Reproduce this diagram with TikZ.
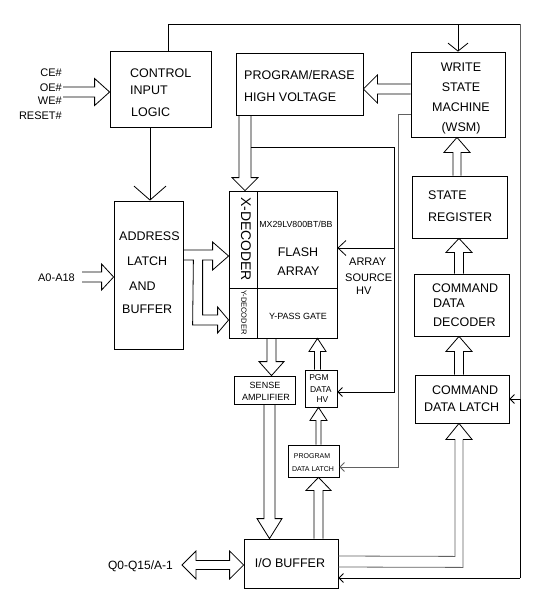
\documentclass[tikz,border=0pt]{standalone}
\usepackage{fontspec}
\setmainfont{Liberation Sans}
\usetikzlibrary{calc,arrows.meta}
\newcommand\blkarrow[6][]{%
  \draw[ln,#1] let \p1=#2, \p2=#3, \n1={atan2(\y2-\y1,\x2-\x1)} in
    ($(\p1)+(\n1+90:#4)$) -- ($(\p2)+(\n1+180:#6)+(\n1+90:#4)$) --
    ($(\p2)+(\n1+180:#6)+(\n1+90:#5)$) -- (\p2) --
    ($(\p2)+(\n1+180:#6)+(\n1-90:#5)$) -- ($(\p2)+(\n1+180:#6)+(\n1-90:#4)$) --
    ($(\p1)+(\n1-90:#4)$);}
\newcommand\dblarrow[6][]{%
  \draw[ln,#1] let \p1=#2, \p2=#3, \n1={atan2(\y2-\y1,\x2-\x1)} in
    (\p1) -- ($(\p1)+(\n1:#6)+(\n1+90:#5)$) -- ($(\p1)+(\n1:#6)+(\n1+90:#4)$) --
    ($(\p2)+(\n1+180:#6)+(\n1+90:#4)$) -- ($(\p2)+(\n1+180:#6)+(\n1+90:#5)$) --
    (\p2) -- ($(\p2)+(\n1+180:#6)+(\n1-90:#5)$) -- ($(\p2)+(\n1+180:#6)+(\n1-90:#4)$) --
    ($(\p1)+(\n1:#6)+(\n1-90:#4)$) -- ($(\p1)+(\n1:#6)+(\n1-90:#5)$) -- cycle;}
\begin{document}
\begin{tikzpicture}[x=1pt,y=-1pt,
  ln/.style={line width=0.8pt, line join=miter},
  gr/.style={draw=black!62},
  box/.style={draw, line width=0.8pt, inner sep=0pt},
  T/.style={inner sep=0pt, text depth=0pt, font=\fontsize{12.5}{14}\selectfont, text height=9pt},
  S14/.style={font=\fontsize{14}{16}\selectfont, text height=10pt},
  S12/.style={font=\fontsize{12}{14}\selectfont, text height=8.6pt},
  S11/.style={font=\fontsize{11}{13}\selectfont, text height=7.9pt},
  S9/.style={font=\fontsize{9}{11}\selectfont, text height=6.4pt},
  S88/.style={font=\fontsize{8.8}{10}\selectfont, text height=6.3pt},
  S85/.style={font=\fontsize{8.5}{10}\selectfont, text height=6.1pt},
  S75/.style={font=\fontsize{7.5}{9}\selectfont, text height=5.4pt},
  S7/.style={font=\fontsize{7}{8}\selectfont, text height=5pt},
  vbig/.style={-{Straight Barb[length=14pt,width=32pt]}},
  vmed/.style={-{Straight Barb[length=8pt,width=20pt]}},
  vsm/.style={-{Straight Barb[length=8pt,width=15pt]}},
  vtiny/.style={-{Straight Barb[length=4.5pt,width=9pt]}}]
\useasboundingbox (0,0) rectangle (547,595);

% boxes
\node[box, minimum width=101pt, minimum height=76pt] (ctrl) at (160.5,89) {};
\node[box, minimum width=127pt, minimum height=62pt] (pe) at (299.5,84) {};
\node[box, minimum width=94pt, minimum height=85pt] (wsm) at (458,94.5) {};
\node[box, minimum width=95pt, minimum height=62pt] (sreg) at (459.5,207) {};
\node[box, minimum width=95pt, minimum height=62pt] (cdd) at (461.5,305) {};
\node[box, minimum width=94pt, minimum height=48pt] (cdl) at (462,399) {};
\node[box, minimum width=69pt, minimum height=148pt] (addr) at (148.5,275) {};
\node[box, minimum width=28pt, minimum height=97pt] (xdec) at (243,239.5) {};
\node[box, minimum width=28pt, minimum height=50pt] (ydec) at (243,313) {};
\node[box, minimum width=80pt, minimum height=97pt] (farr) at (297,239.5) {};
\node[box, minimum width=80pt, minimum height=50pt] (ypass) at (297,313) {};
\node[box, minimum width=61pt, minimum height=28pt] (sense) at (264.5,390) {};
\node[box, minimum width=32pt, minimum height=37pt] (pgm) at (321,388.5) {};
\node[box, minimum width=51pt, minimum height=32pt] (pdl) at (313.5,461) {};
\node[box, minimum width=94pt, minimum height=49pt] (io) at (291,563.5) {};

% texts
\node[T, anchor=west] (t1) at (130,73) {CONTROL};
\node[T, anchor=west] (t2) at (130,90) {INPUT};
\node[T, anchor=west] (t3) at (131,112) {LOGIC};
\node[T, anchor=west] (t4) at (244,75) {PROGRAM/ERASE};
\node[T, anchor=west] (t5) at (244,96.5) {HIGH VOLTAGE};
\node[T] (t6) at (461,67) {WRITE};
\node[T] (t7) at (461,87) {STATE};
\node[T] (t8) at (461,107) {MACHINE};
\node[T] (t9) at (461,127) {(WSM)};
\node[T, anchor=west] (t10) at (428,194.5) {STATE};
\node[T, anchor=west] (t11) at (428,217) {REGISTER};
\node[T, anchor=west] (t12) at (432,288) {COMMAND};
\node[T, anchor=west] (t13) at (433,303) {DATA};
\node[T, anchor=west] (t14) at (433,322) {DECODER};
\node[T, anchor=west] (t15) at (432,390) {COMMAND};
\node[T, anchor=west] (t16) at (424,407) {DATA LATCH};
\node[T, anchor=west] (t17) at (119,235.5) {ADDRESS};
\node[T, anchor=west] (t18) at (127,260.5) {LATCH};
\node[T, anchor=west] (t19) at (129,285.5) {AND};
\node[T, anchor=west] (t20) at (122,308.5) {BUFFER};
\node[T, S14, rotate=-90] (t21) at (246,239) {X-DECODER};
\node[T, S75, rotate=-90] (t22) at (244,312.5) {Y-DECODER};
\node[T, S88] (t23) at (296,224.7) {MX29LV800BT/BB};
\node[T] (t24) at (298,252) {FLASH};
\node[T] (t25) at (298.5,270.5) {ARRAY};
\node[T, S9] (t26) at (298,316.7) {Y-PASS GATE};
\node[T, S11, anchor=west] (t27) at (349,262) {ARRAY};
\node[T, S11, anchor=west] (t28) at (345,278) {SOURCE};
\node[T, S11, anchor=west] (t29) at (356,291) {HV};
\node[T, S9] (t30) at (265,385.5) {SENSE};
\node[T, S9] (t31) at (266,397.5) {AMPLIFIER};
\node[T, S85] (t32) at (319,377.5) {PGM};
\node[T, S85] (t33) at (320.8,389) {DATA};
\node[T, S85] (t34) at (322.5,399) {HV};
\node[T, S7] (t35) at (312,456) {PROGRAM};
\node[T, S7] (t36) at (313,469) {DATA LATCH};
\node[T] (t37) at (290,562.5) {I/O BUFFER};
\node[T, S12] (q0) at (140.5,565.5) {Q0-Q15/A-1};
\node[T, S11] (a018) at (56.5,277.5) {A0-A18};
\node[T, S11, anchor=east] (ce) at (62,73) {CE\#};
\node[T, S11, anchor=east] (oe) at (62,87.5) {OE\#};
\node[T, S11, anchor=east] (we) at (62,101) {WE\#};
\node[T, S11, anchor=east] (rs) at (62,116) {RESET\#};

% coordinates
\coordinate (tl) at (168,24);
\coordinate (tr) at (520,24);
\coordinate (rb) at (520,578);
\coordinate (asL) at (251,147);
\coordinate (asR) at (394,147);
\coordinate (cin) at (63,92);
\coordinate (ain) at (82,277);
\coordinate (qin) at (182,565);
\coordinate (pgmin) at ($(pgm.east)+(0,3.5)$);
\coordinate (farin) at ($(farr.east)+(0,8.5)$);
\coordinate (wout) at ($(wsm.west)+(0,19.5)$);
\coordinate (wl) at ($(wout)+(-12,0)$);
\coordinate (pdlin) at ($(pdl.east)+(0,6)$);

% thin connectors
\draw[ln] (tl |- ctrl.north) -- (tl) -- (tr);
\draw[ln, gr] (tr) -- (tr |- cdl.east);
\draw[ln, vtiny] (tr |- cdl.east) -- (cdl.east);
\draw[ln] (tr |- cdl.east) -- (rb);
\draw[ln, vtiny] (rb) -- (rb -| io.east);
\draw[ln, vmed] (tl -| wsm.north) -- (wsm.north);
\draw[ln, vbig] ($(ctrl.south)+(-10.5,0)$) -- ($(addr.north)+(1.5,0)$);
\draw[ln, vtiny] (asL) -- (asR) -- (asR |- pgmin) -- (pgmin);
\draw[ln, vsm] (asR |- farin) -- (farin);
\draw[ln, gr, vtiny] (wout) -- (wl) -- (wl |- pdlin) -- (pdlin);

% block arrows
\blkarrow{(cin)}{($(ctrl.west)+(0,3)$)}{5pt}{13.5pt}{15pt}
\blkarrow{(ain)}{($(addr.west)+(0,2)$)}{5pt}{13pt}{12pt}
\dblarrow{(qin)}{($(io.west)+(0,1.5)$)}{4.5pt}{14pt}{14pt}
\blkarrow{($(wsm.west)+(0,-5.5)$)}{($(pe.east)+(0,5)$)}{5pt}{14pt}{14pt}
\blkarrow{($(pe.south)+(-54.5,0)$)}{($(xdec.north)+(2,0)$)}{6pt}{13pt}{13pt}
\blkarrow{($(sreg.north)+(-2.5,0)$)}{($(wsm.south)+(-1,0)$)}{4pt}{13pt}{15pt}
\blkarrow{($(cdd.north)+(-2.5,0)$)}{($(sreg.south)+(-0.5,0)$)}{4.5pt}{13pt}{14pt}
\blkarrow{($(cdl.north)+(-3,0)$)}{($(cdd.south)+(-2.5,0)$)}{4.5pt}{13pt}{15pt}
\blkarrow{($(ypass.south)+(-25.5,0)$)}{($(sense.north)+(7,0)$)}{4.5pt}{12.5pt}{14pt}
\blkarrow{($(pgm.north)+(-3.5,0)$)}{($(ypass.south)+(20.5,0)$)}{3pt}{8.5pt}{13pt}
\blkarrow{($(pdl.north)+(5,0)$)}{($(pgm.south)+(-2.5,0)$)}{2.5pt}{8.5pt}{13pt}
\blkarrow{($(io.north)+(27.5,0)$)}{($(pdl.south)+(5,0)$)}{4.5pt}{12.5pt}{13pt}
\blkarrow{($(sense.south)+(5,0)$)}{($(io.north)+(-21.5,0)$)}{5.5pt}{12.5pt}{20pt}

% address latch -> X/Y decoder (joined outline)
\draw[ln] ($(addr.east)+(0,-25)$) -- ($(xdec.west)+(-16,10.5)$) -- ($(xdec.west)+(-16,2.5)$)
  -- ($(xdec.west)+(0,16.5)$) -- ($(xdec.west)+(-16,30.5)$) -- ($(xdec.west)+(-16,20.5)$)
  -- ($(xdec.west)+(-26,20.5)$) -- ($(ydec.west)+(-26,2)$) -- ($(ydec.west)+(-11,2)$)
  -- ($(ydec.west)+(-11,-6)$) -- ($(ydec.west)+(0,7)$) -- ($(ydec.west)+(-11,20)$)
  -- ($(ydec.west)+(-11,12)$) -- ($(ydec.west)+(-36,12)$) -- ($(addr.east)+(10,-15)$)
  -- ($(addr.east)+(0,-15)$);

% I/O buffer -> command data latch (bent)
\draw[ln, gr] ($(io.east)+(0,-7.5)$) -- ($(cdl.south)+(-7,133)$) -- ($(cdl.south)+(-7,16)$);
\draw[ln, gr] ($(io.east)+(0,3.5)$) -- ($(cdl.south)+(1,144)$) -- ($(cdl.south)+(1,16)$);
\draw[ln] ($(cdl.south)+(-7,16)$) -- ($(cdl.south)+(-16,16)$) -- ($(cdl.south)+(-3,0)$)
  -- ($(cdl.south)+(10,16)$) -- ($(cdl.south)+(1,16)$);
\end{tikzpicture}
\end{document}
